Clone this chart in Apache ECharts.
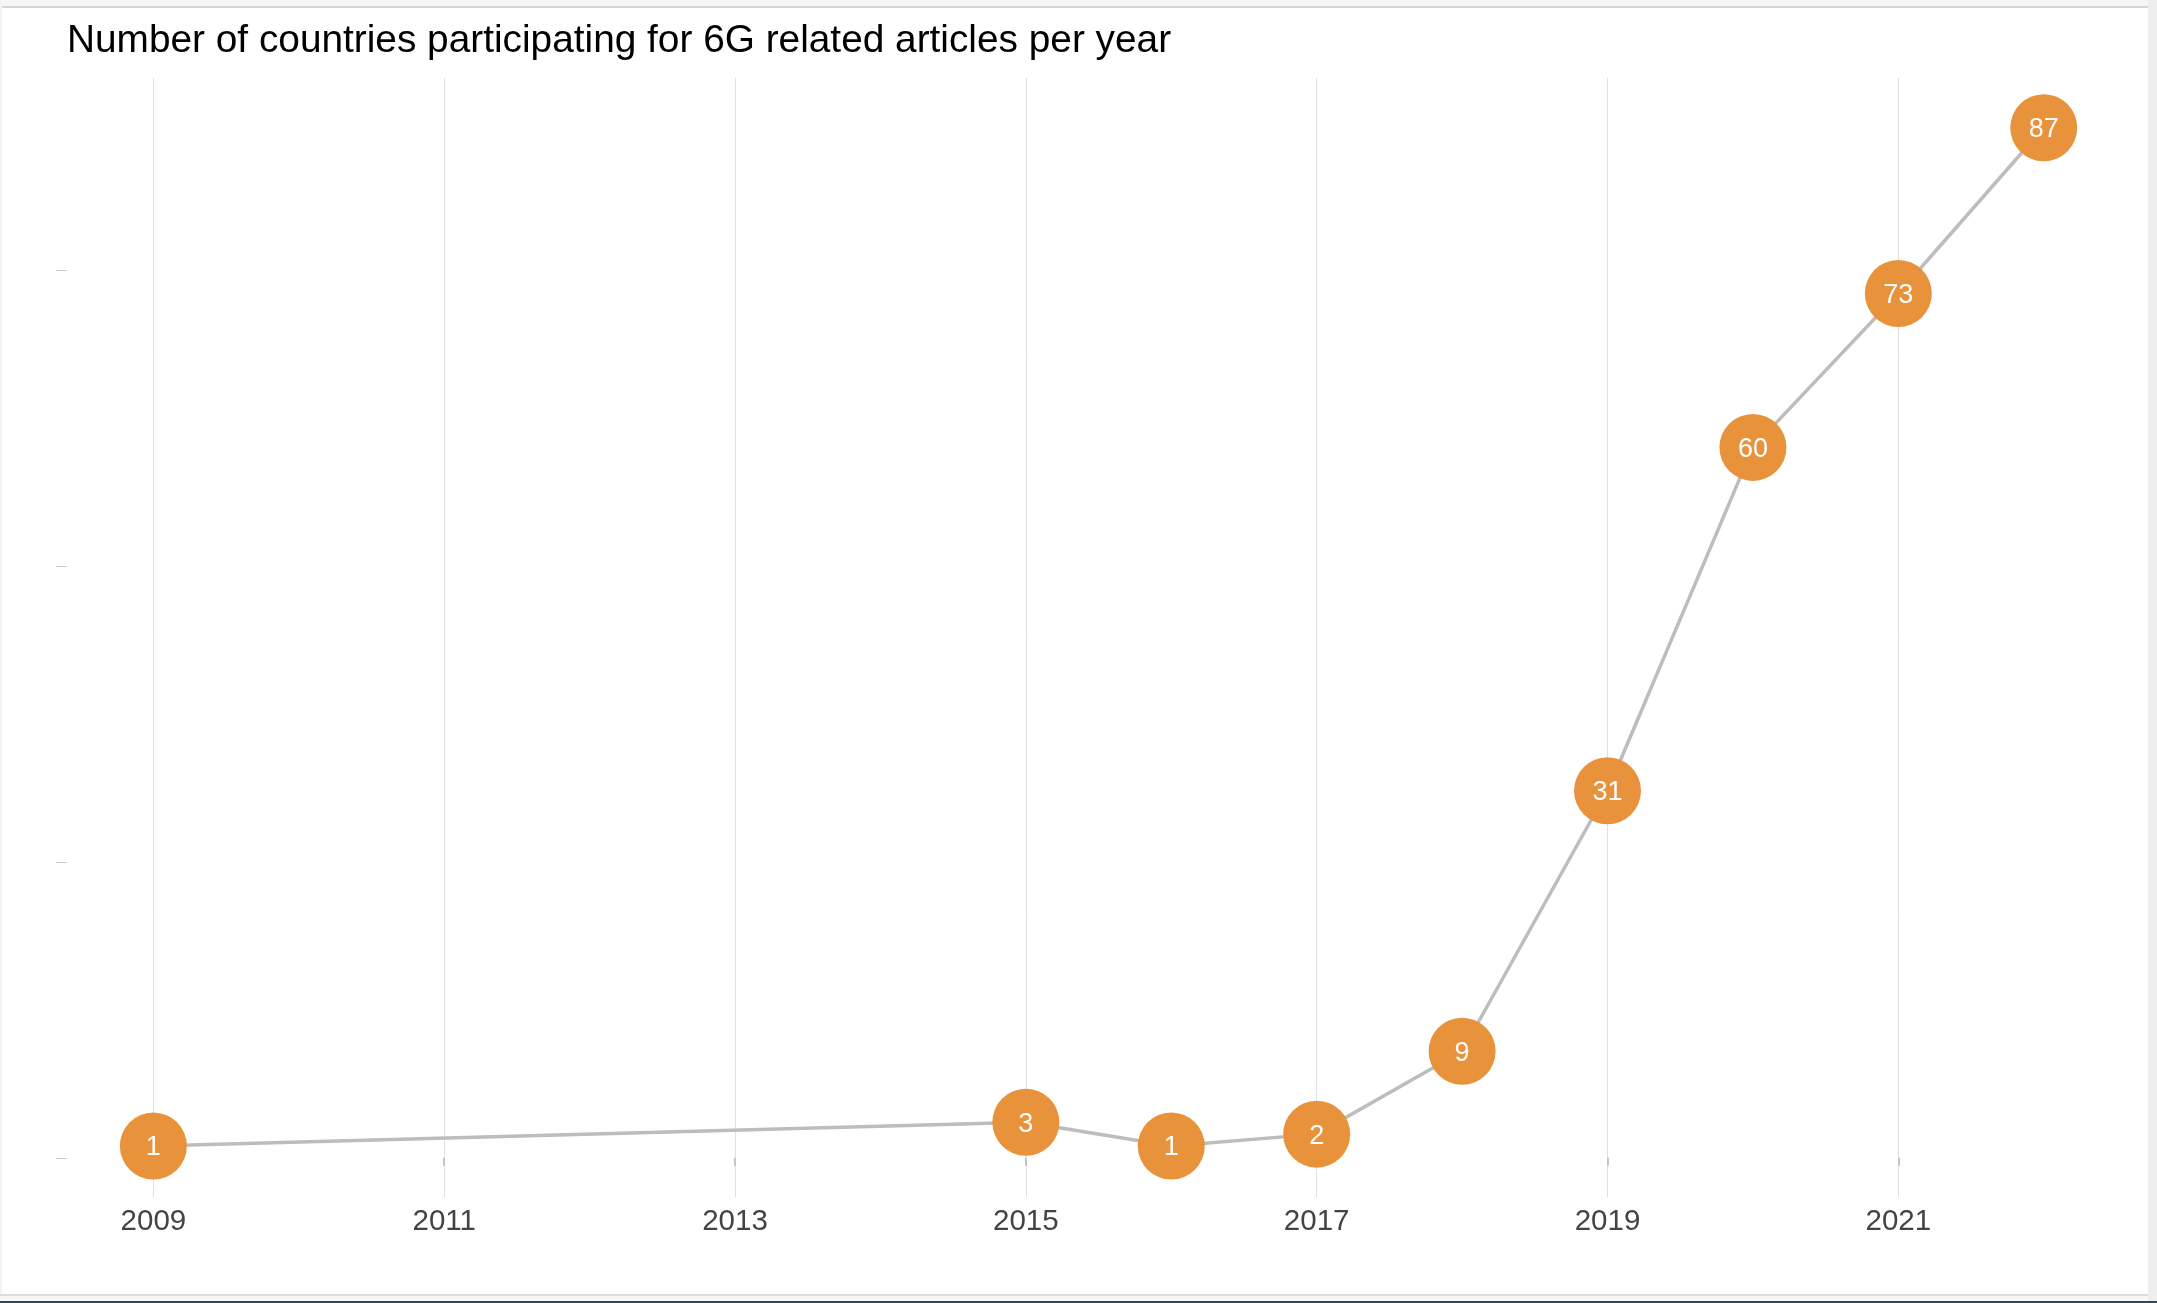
<!DOCTYPE html>
<html>
<head>
<meta charset="utf-8">
<title>6G related articles</title>
<script src="https://cdn.jsdelivr.net/npm/echarts@6/dist/echarts.min.js"></script>
<style>
  html, body { margin: 0; padding: 0; background: #ffffff; overflow: hidden; }
  #chart { position: absolute; left: 0; top: 0; width: 2157px; height: 1303px; }
  .edge { position: absolute; pointer-events: none; }
</style>
</head>
<body>
<div id="chart"></div>
<!-- window frame around the chart panel -->
<div class="edge" style="left:0;top:0;width:2157px;height:6px;background:#f6f6f6;"></div>
<div class="edge" style="left:0;top:6px;width:2148px;height:2px;background:#d6d6d6;"></div>
<div class="edge" style="left:0;top:0;width:2px;height:1295px;background:#f3f3f3;"></div>
<div class="edge" style="left:2148px;top:0;width:9px;height:1303px;background:#eeeeee;"></div>
<div class="edge" style="left:0;top:1294px;width:2148px;height:2px;background:#dcdcdc;"></div>
<div class="edge" style="left:0;top:1296px;width:2148px;height:5px;background:#f7f7f7;"></div>
<div class="edge" style="left:0;top:1301px;width:2157px;height:2px;background:#37474f;"></div>
<script>
// Countries taking part in 6G related articles, by publication year
const years = [2009, 2015, 2016, 2017, 2018, 2019, 2020, 2021, 2022];
const countries = [1, 3, 1, 2, 9, 31, 60, 73, 87];

// Axis tick positions
const yearTicks = [2009, 2011, 2013, 2015, 2017, 2019, 2021];
const countTicks = [0, 25, 50, 75];

const points = years.map((y, i) => [y, countries[i]]);

const chart = echarts.init(document.getElementById('chart'), null, { renderer: 'canvas' });

chart.setOption({
  animation: false,
  backgroundColor: 'transparent',
  textStyle: { fontFamily: '"Liberation Sans", Arial, sans-serif' },
  title: {
    text: 'Number of countries participating for 6G related articles per year',
    left: 62,
    top: 17,
    textStyle: {
      fontSize: 38.8,
      fontWeight: 'normal',
      color: '#000000',
      fontFamily: '"Liberation Sans", Arial, sans-serif'
    }
  },
  grid: { left: 67, right: 26, top: 78, bottom: 106, containLabel: false },
  xAxis: {
    type: 'value',
    min: 2008.406,
    max: 2022.6,
    axisLine: { show: false },
    axisTick: {
      show: true,
      customValues: yearTicks,
      length: 8,
      lineStyle: { color: '#c4c4c4', width: 2 }
    },
    axisLabel: {
      customValues: yearTicks,
      fontSize: 29.5,
      color: '#444444',
      margin: 10,
      formatter: v => String(v)
    },
    splitLine: {
      show: true,
      lineStyle: { color: '#e0e0e0', width: 1 }
    }
  },
  yAxis: {
    type: 'value',
    min: -3.31,
    max: 91.2,
    axisLine: { show: false },
    axisTick: {
      show: true,
      customValues: countTicks,
      length: 11,
      lineStyle: { color: '#cccccc', width: 1 }
    },
    axisLabel: { show: false, customValues: countTicks },
    splitLine: { show: false }
  },
  series: [{
    type: 'line',
    data: points,
    symbol: 'circle',
    symbolSize: 67,
    showAllSymbol: true,
    lineStyle: { color: '#bdbdbd', width: 3.5 },
    itemStyle: { color: '#e8923b', borderWidth: 0 },
    label: {
      show: true,
      position: 'inside',
      offset: [0, 2],
      color: '#ffffff',
      fontSize: 27,
      fontFamily: '"Liberation Sans", Arial, sans-serif',
      formatter: p => String(p.value[1])
    },
    emphasis: { disabled: true }
  }]
});
</script>
</body>
</html>
